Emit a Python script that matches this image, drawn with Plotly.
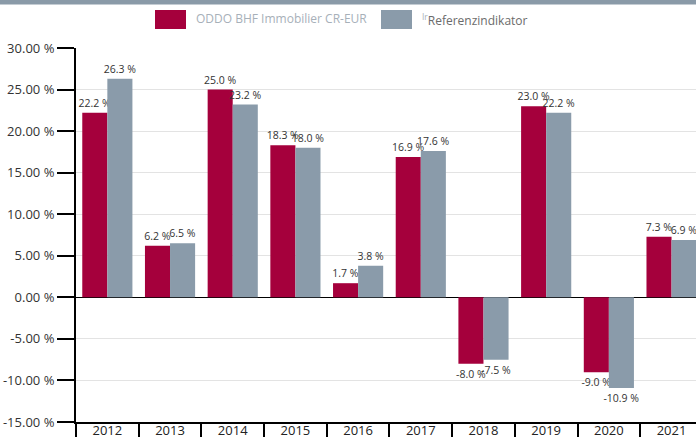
import plotly.graph_objects as go

years = ["2012", "2013", "2014", "2015", "2016", "2017", "2018", "2019", "2020", "2021"]
fund = [22.2, 6.2, 25.0, 18.3, 1.7, 16.9, -8.0, 23.0, -9.0, 7.3]
bench = [26.3, 6.5, 23.2, 18.0, 3.8, 17.6, -7.5, 22.2, -10.9, 6.9]
y_ticks = [-15, -10, -5, 0, 5, 10, 15, 20, 25, 30]
fund_name = "ODDO BHF Immobilier CR-EUR"
bench_name = "Referenzindikator"

RED = "#a5003c"
GRAY = "#8a9baa"
FONT = "Open Sans"

W, H = 696, 437
ML, MR, MT, MB = 76, 0, 48, 15
PW, PH = W - ML - MR, H - MT - MB


def px(x):
    return (x - ML) / PW


def py(y):
    return (H - MB - y) / PH


fig = go.Figure()
for name, vals, col in [(fund_name, fund, RED), (bench_name, bench, GRAY)]:
    fig.add_trace(go.Bar(
        x=years, y=vals, name=name, marker=dict(color=col, line=dict(width=0)),
        text=vals, texttemplate="%{y:.1f} %", textposition="outside",
        textfont=dict(family=FONT, size=10.5, color="#333333"),
        constraintext="none", cliponaxis=False, showlegend=False,
    ))

shapes = [
    dict(type="rect", xref="paper", yref="paper", x0=px(0), x1=px(W), y0=py(0), y1=py(4.5),
         fillcolor="#8a9aa8", line=dict(width=0), layer="above"),
    dict(type="rect", xref="paper", yref="paper", x0=px(155), x1=px(186), y0=py(10), y1=py(29),
         fillcolor=RED, line=dict(width=0)),
    dict(type="rect", xref="paper", yref="paper", x0=px(381), x1=px(412), y0=py(10), y1=py(29),
         fillcolor=GRAY, line=dict(width=0)),
]

annotations = [
    dict(xref="paper", yref="paper", x=px(194), y=py(19), xanchor="left", yanchor="middle",
         text=fund_name, showarrow=False, font=dict(family=FONT, size=12, color="#a7b0b9")),
    dict(xref="paper", yref="paper", x=px(420), y=py(20), xanchor="left", yanchor="middle",
         text="<span style='color:#a7b0b9'><sup>Ir</sup></span>" + bench_name, showarrow=False,
         font=dict(family=FONT, size=12, color="#6b6b6b")),
]

y_text = ["%.2f %%" % v for v in y_ticks]

fig.update_layout(
    width=W, height=H, margin=dict(l=ML, r=MR, t=MT, b=MB, pad=0, autoexpand=False),
    paper_bgcolor="white", plot_bgcolor="white",
    barmode="group", bargap=0.2, bargroupgap=0,
    shapes=shapes, annotations=annotations,
    font=dict(family=FONT, size=13, color="#333333"),
    xaxis=dict(
        type="category", range=[-0.5, 9.39], showline=True, linecolor="black", linewidth=2,
        ticks="outside", tickson="boundaries", ticklen=15, tickwidth=1.5, tickcolor="black",
        ticklabelstandoff=-5, showgrid=False, automargin=False,
        tickfont=dict(family=FONT, size=13, color="#222222"),
    ),
    yaxis=dict(
        range=[-15, 30], tickvals=y_ticks, ticktext=y_text, automargin=False,
        showline=True, linecolor="black", linewidth=2,
        ticks="outside", ticklen=17, tickwidth=2, tickcolor="black",
        showgrid=True, gridcolor="#e3e3e3", gridwidth=1,
        zeroline=True, zerolinecolor="black", zerolinewidth=1,
        tickfont=dict(family=FONT, size=13, color="#333333"),
    ),
)

fig.write_html("out.html")
